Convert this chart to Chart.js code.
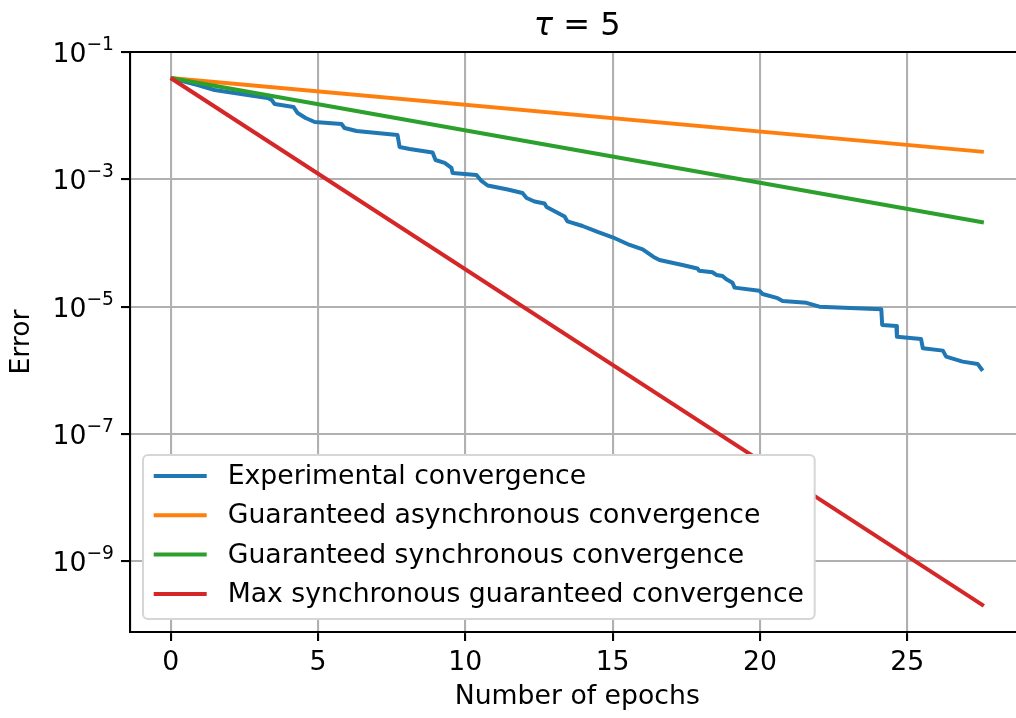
<!DOCTYPE html>
<html lang="en">
<head>
<meta charset="UTF-8">
<title>Convergence, tau = 5</title>
<script src="https://cdn.jsdelivr.net/npm/chart.js"></script>
<style>
    html, body { margin: 0; padding: 0; background: #fff; overflow: hidden; }
    #wrap { width: 1030px; height: 718px; }
</style>
</head>
<body>
<div id="wrap"><canvas id="chart"></canvas></div>
<script>
// experimental run
const epochs = [0, 0.92, 1.49, 2.61, 3.29, 3.43, 3.53, 4.17, 4.31, 4.58, 4.89, 5.80, 5.90, 6.31, 7.70, 7.77,
    8.11, 8.89, 8.99, 9.30, 9.53, 9.57, 10.38, 10.55, 10.76, 11.44, 11.94, 12.08, 12.35, 12.69, 12.76,
    13.37, 13.47, 13.98, 14.49, 15.00, 15.58, 16.02, 16.39, 16.59, 17.37, 17.88, 17.94, 18.39, 18.52,
    18.73, 18.86, 19.07, 19.14, 19.98, 20.09, 20.60, 20.77, 21.58, 22.02, 24.12, 24.15, 24.63, 24.65,
    25.47, 25.53, 26.21, 26.32, 26.88, 27.39, 27.56];
const experimental = [3.91e-2, 3.03e-2, 2.53e-2, 2.11e-2, 1.90e-2, 1.76e-2, 1.52e-2, 1.37e-2, 1.10e-2,
    9.18e-3, 7.96e-3, 7.40e-3, 6.40e-3, 5.74e-3, 4.97e-3, 3.22e-3, 3.00e-3, 2.64e-3, 2.01e-3, 1.81e-3,
    1.51e-3, 1.26e-3, 1.17e-3, 9.42e-4, 8.00e-4, 6.92e-4, 6.10e-4, 5.09e-4, 4.49e-4, 4.18e-4, 3.68e-4,
    2.61e-4, 2.18e-4, 1.85e-4, 1.49e-4, 1.23e-4, 9.31e-5, 7.96e-5, 6.03e-5, 5.41e-5, 4.52e-5, 3.98e-5,
    3.67e-5, 3.47e-5, 3.15e-5, 3.03e-5, 2.69e-5, 2.38e-5, 1.99e-5, 1.78e-5, 1.58e-5, 1.36e-5, 1.23e-5,
    1.15e-5, 1.00e-5, 9.10e-6, 5.15e-6, 4.98e-6, 3.38e-6, 3.10e-6, 2.22e-6, 2.04e-6, 1.64e-6, 1.37e-6,
    1.26e-6, 9.86e-7];

// guaranteed bounds (straight on a log axis)
const boundEpochs = [0, 27.6];
const asyncBound = [3.9e-2, 2.7e-3];
const syncBound = [3.9e-2, 2.1e-4];
const maxSyncBound = [3.9e-2, 2.0e-10];

const seriesLabels = ["Experimental convergence", "Guaranteed asynchronous convergence",
    "Guaranteed synchronous convergence", "Max synchronous guaranteed convergence"];
const xTicks = [0, 5, 10, 15, 20, 25];
const yTicks = [1e-9, 1e-7, 1e-5, 1e-3, 1e-1];
const titleSymbol = "\u03C4";
const titleRest = " = 5";

const FONT = "DejaVu Sans";
const FS = 26.7;

function pts(xs, ys) {
    return xs.map((x, i) => ({ x: x, y: ys[i] }));
}

function line(label, data, color, order) {
    return {
        label: label,
        data: data,
        borderColor: color,
        backgroundColor: color,
        borderWidth: 4,
        pointRadius: 0,
        tension: 0,
        fill: false,
        borderJoinStyle: "round",
        order: order
    };
}

// title, top spine, 10^n tick labels and a matplotlib style legend
const extras = {
    id: "extras",
    afterDraw(chart) {
        const ctx = chart.ctx;
        const ca = chart.chartArea;
        ctx.save();

        // title with italic tau
        ctx.fillStyle = "#000";
        ctx.textBaseline = "middle";
        ctx.textAlign = "left";
        const fItal = "oblique 32px '" + FONT + "'";
        const fReg = "32px '" + FONT + "'";
        ctx.font = fItal;
        const w1 = ctx.measureText(titleSymbol).width;
        ctx.font = fReg;
        const w2 = ctx.measureText(titleRest).width;
        const tx = (ca.left + ca.right) / 2 - (w1 + w2) / 2;
        ctx.font = fItal;
        ctx.fillText(titleSymbol, tx, 27);
        ctx.font = fReg;
        ctx.fillText(titleRest, tx + w1, 27);

        // top spine
        ctx.strokeStyle = "#000";
        ctx.lineWidth = 2.1;
        ctx.beginPath();
        ctx.moveTo(ca.left - 1, ca.top);
        ctx.lineTo(ca.right, ca.top);
        ctx.stroke();

        // y tick labels as 10 with raised exponent
        const ys = chart.scales.y;
        const right = ca.left - 9 - 7;
        yTicks.forEach(v => {
            const py = ys.getPixelForValue(v);
            const exp = "\u2212" + String(Math.abs(Math.round(Math.log10(v))));
            ctx.textAlign = "right";
            ctx.textBaseline = "alphabetic";
            ctx.font = (FS * 0.7).toFixed(1) + "px '" + FONT + "'";
            const ew = ctx.measureText(exp).width;
            ctx.fillText(exp, right, py - 2);
            ctx.font = FS + "px '" + FONT + "'";
            ctx.fillText("10", right - ew, py + 10);
        });

        // legend
        ctx.font = FS + "px '" + FONT + "'";
        let maxW = 0;
        chart.data.datasets.forEach(d => { maxW = Math.max(maxW, ctx.measureText(d.label).width); });
        const left = ca.left + 13;
        const bottom = ca.bottom - 13;
        const w = 10.7 + 53 + 21 + maxW + 10.7;
        const h = 164;
        const top = bottom - h;
        ctx.beginPath();
        ctx.roundRect(left, top, w, h, 5);
        ctx.fillStyle = "#fff";
        ctx.fill();
        ctx.strokeStyle = "#d6d6d6";
        ctx.lineWidth = 2;
        ctx.stroke();

        ctx.textBaseline = "middle";
        ctx.textAlign = "left";
        chart.data.datasets.forEach((d, i) => {
            const y = top + 21 + i * 39.3;
            ctx.strokeStyle = d.borderColor;
            ctx.lineWidth = 4;
            ctx.beginPath();
            ctx.moveTo(left + 10.7, y);
            ctx.lineTo(left + 10.7 + 53, y);
            ctx.stroke();
            ctx.fillStyle = "#000";
            ctx.fillText(d.label, left + 10.7 + 53 + 21, y + 1);
        });
        ctx.restore();
    }
};

new Chart(document.getElementById("chart"), {
    type: "line",
    data: {
        datasets: [
            line(seriesLabels[0], pts(epochs, experimental), "#1f77b4", 3),
            line(seriesLabels[1], pts(boundEpochs, asyncBound), "#ff7f0e", 2),
            line(seriesLabels[2], pts(boundEpochs, syncBound), "#2ca02c", 1),
            line(seriesLabels[3], pts(boundEpochs, maxSyncBound), "#d62728", 0)
        ]
    },
    options: {
        responsive: true,
        maintainAspectRatio: false,
        animation: false,
        layout: { padding: { left: 0, right: 5.5, top: 52, bottom: 0 } },
        plugins: {
            legend: { display: false },
            tooltip: { enabled: false },
            title: { display: false }
        },
        scales: {
            x: {
                type: "linear",
                min: -1.38,
                max: 28.98,
                afterBuildTicks: s => { s.ticks = xTicks.map(v => ({ value: v })); },
                afterFit: s => { s.height = 86; },
                ticks: {
                    color: "#000",
                    font: { family: FONT, size: FS },
                    padding: 6,
                    maxRotation: 0,
                    autoSkip: false
                },
                grid: { color: "#b0b0b0", lineWidth: 2.1, tickColor: "#000", tickLength: 9, tickWidth: 2.1 },
                border: { color: "#000", width: 2.1 },
                title: {
                    display: true,
                    text: "Number of epochs",
                    color: "#000",
                    font: { family: FONT, size: FS },
                    padding: { top: 0, bottom: 5 }
                }
            },
            y: {
                type: "logarithmic",
                min: 7.76e-11,
                max: 0.1,
                afterBuildTicks: s => { s.ticks = yTicks.map(v => ({ value: v })); },
                afterFit: s => { s.width = 130; },
                ticks: { display: false },
                grid: { color: "#b0b0b0", lineWidth: 2.1, tickColor: "#000", tickLength: 9, tickWidth: 2.1 },
                border: { color: "#000", width: 2.1 },
                title: {
                    display: true,
                    text: "Error",
                    color: "#000",
                    font: { family: FONT, size: FS },
                    padding: { top: 6, bottom: 0 }
                }
            }
        }
    },
    plugins: [extras]
});
</script>
</body>
</html>
